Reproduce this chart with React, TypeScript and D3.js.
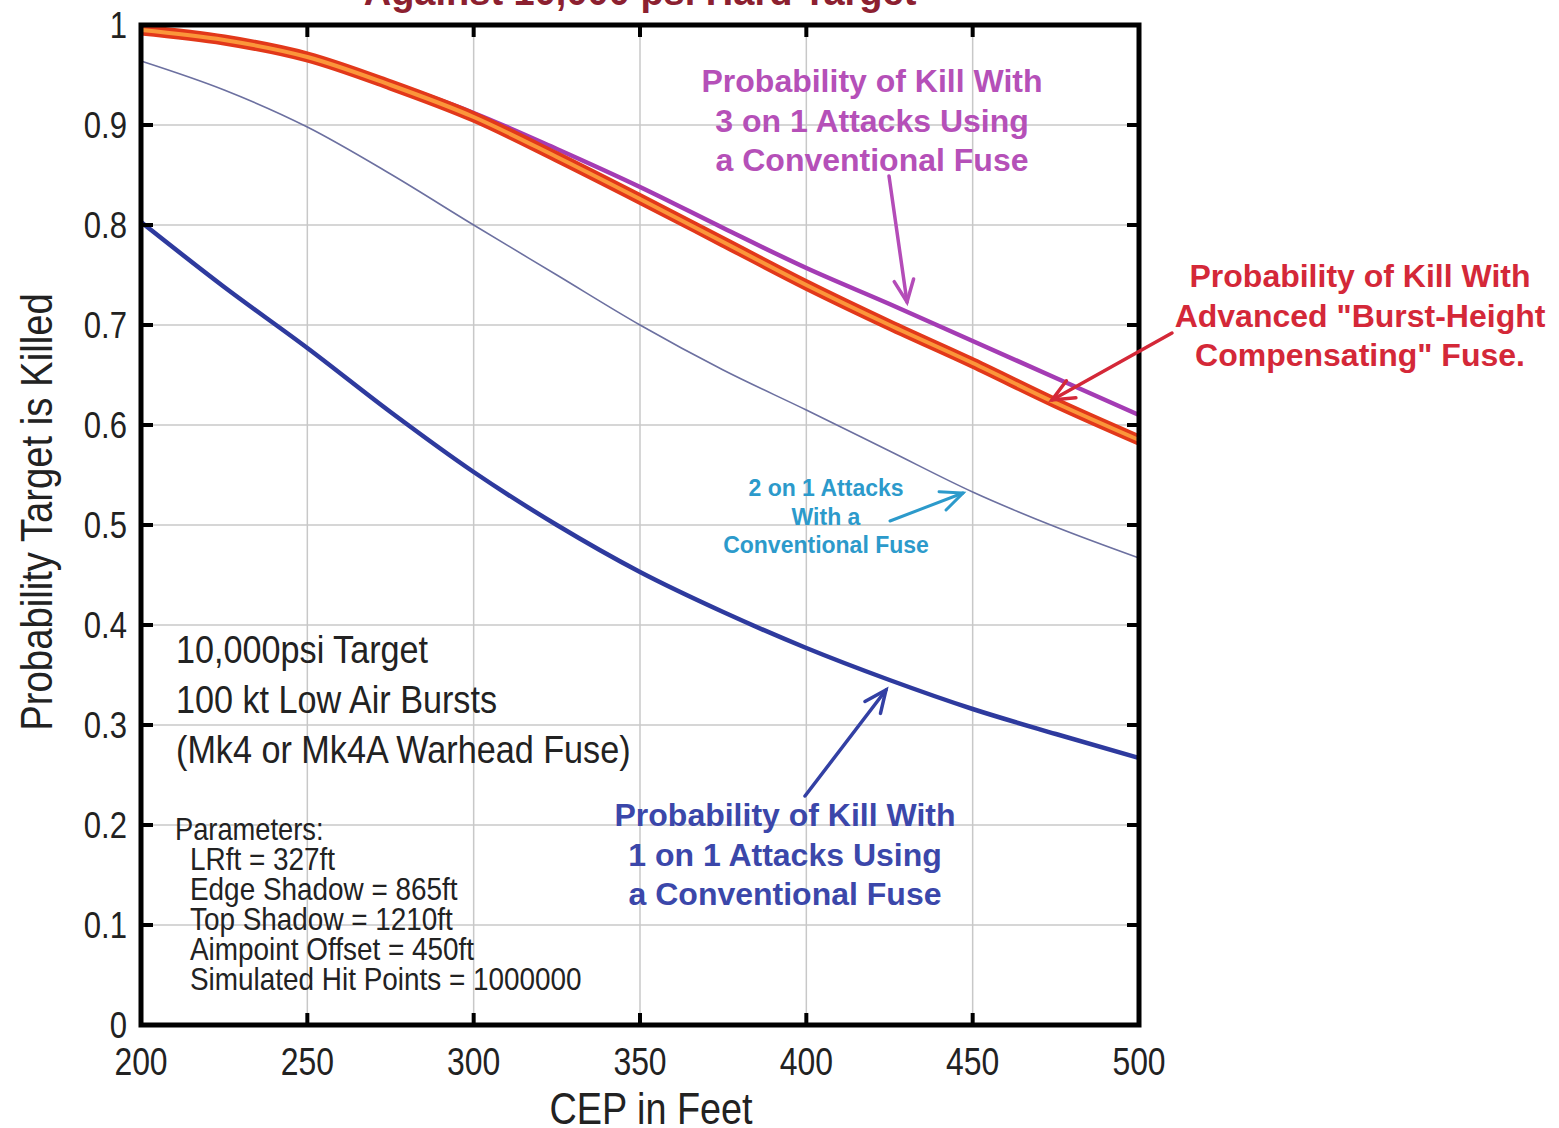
import { useEffect, useRef } from 'react';
import * as d3 from 'd3';

// CEP values (ft)
const cep = [200, 225, 250, 275, 300, 325, 350, 375, 400, 425, 450, 475, 500];

// probability of kill
const oneOnOne = [0.803, 0.738, 0.677, 0.613, 0.553, 0.5, 0.453, 0.413, 0.377, 0.345, 0.316, 0.291, 0.267];
const twoOnOne = [0.964, 0.935, 0.898, 0.851, 0.8, 0.75, 0.7, 0.655, 0.615, 0.574, 0.533, 0.498, 0.467];
const threeOnOne = [0.995, 0.985, 0.968, 0.942, 0.912, 0.876, 0.838, 0.797, 0.757, 0.721, 0.684, 0.647, 0.61];
const advancedFuse = [0.995, 0.985, 0.968, 0.94, 0.908, 0.868, 0.826, 0.783, 0.74, 0.7, 0.662, 0.622, 0.585];

const xTicks = [200, 250, 300, 350, 400, 450, 500];
const yTicks = [0, 0.1, 0.2, 0.3, 0.4, 0.5, 0.6, 0.7, 0.8, 0.9, 1];

const infoLines = ['10,000psi Target', '100 kt Low Air Bursts', '(Mk4 or Mk4A Warhead Fuse)'];
const paramLines = [
  'LRft = 327ft',
  'Edge Shadow = 865ft',
  'Top Shadow = 1210ft',
  'Aimpoint Offset = 450ft',
  'Simulated Hit Points = 1000000',
];
const purpleNote = ['Probability of Kill With', '3 on 1 Attacks Using', 'a Conventional Fuse'];
const redNote = ['Probability of Kill With', 'Advanced "Burst-Height', 'Compensating" Fuse.'];
const blueNote = ['Probability of Kill With', '1 on 1 Attacks Using', 'a Conventional Fuse'];
const cyanNote = ['2 on 1 Attacks', 'With a', 'Conventional Fuse'];

const SANS = '"Liberation Sans", Arial, Helvetica, sans-serif';

const App = () => {
  const svgRef = useRef<SVGSVGElement>(null);

  useEffect(() => {
    if (!svgRef.current) return;
    const svg = d3.select(svgRef.current);
    svg.selectAll('*').remove();

    const width = 1559;
    const height = 1128;
    const left = 141;
    const right = 1139;
    const top = 25;
    const bottom = 1025;

    const x = d3.scaleLinear().domain([200, 500]).range([left, right]);
    const y = d3.scaleLinear().domain([0, 1]).range([bottom, top]);

    svg.append('rect').attr('width', width).attr('height', height).attr('fill', '#fff');

    // condensed-looking text: squeeze horizontally since no narrow face is installed
    const txt = (
      tx: number, ty: number, s: string, size: number, sx: number,
      anchor = 'start', color = '#222', weight = 'normal', rot = 0,
    ) => svg.append('text')
      .attr('transform', `translate(${tx},${ty}) rotate(${rot}) scale(${sx},1)`)
      .attr('text-anchor', anchor)
      .attr('font-family', SANS)
      .attr('font-weight', weight)
      .attr('font-size', size)
      .attr('fill', color)
      .text(s);

    // title, mostly cut off at the top edge
    txt(640, 5, 'Against 10,000 psi Hard Target', 38, 1, 'middle', '#8c2030', 'bold');

    // grid
    const grid = svg.append('g').attr('stroke', '#c8c8c8').attr('stroke-width', 1.5);
    xTicks.slice(1, -1).forEach(t => {
      grid.append('line').attr('x1', x(t)).attr('x2', x(t)).attr('y1', top).attr('y2', bottom);
    });
    yTicks.slice(1, -1).forEach(t => {
      grid.append('line').attr('x1', left).attr('x2', right).attr('y1', y(t)).attr('y2', y(t));
    });

    // curves
    const line = d3.line<number>()
      .x((_, i) => x(cep[i]))
      .y(d => y(d))
      .curve(d3.curveMonotoneX);

    svg.append('path').attr('d', line(twoOnOne)).attr('fill', 'none')
      .attr('stroke', '#6c70a0').attr('stroke-width', 1.6);
    svg.append('path').attr('d', line(oneOnOne)).attr('fill', 'none')
      .attr('stroke', '#2e3a9e').attr('stroke-width', 4.5);
    svg.append('path').attr('d', line(threeOnOne)).attr('fill', 'none')
      .attr('stroke', '#a43cb4').attr('stroke-width', 4.5);
    svg.append('path').attr('d', line(advancedFuse)).attr('fill', 'none')
      .attr('stroke', '#e2381a').attr('stroke-width', 11);
    svg.append('path').attr('d', line(advancedFuse)).attr('fill', 'none')
      .attr('stroke', '#fb963a').attr('stroke-width', 4);

    // frame and ticks
    svg.append('rect')
      .attr('x', left).attr('y', top)
      .attr('width', right - left).attr('height', bottom - top)
      .attr('fill', 'none').attr('stroke', '#000').attr('stroke-width', 5);

    const ticks = svg.append('g').attr('stroke', '#000').attr('stroke-width', 4);
    xTicks.slice(1, -1).forEach(t => {
      ticks.append('line').attr('x1', x(t)).attr('x2', x(t)).attr('y1', bottom).attr('y2', bottom - 12);
      ticks.append('line').attr('x1', x(t)).attr('x2', x(t)).attr('y1', top).attr('y2', top + 12);
    });
    yTicks.slice(1, -1).forEach(t => {
      ticks.append('line').attr('x1', left).attr('x2', left + 12).attr('y1', y(t)).attr('y2', y(t));
      ticks.append('line').attr('x1', right).attr('x2', right - 12).attr('y1', y(t)).attr('y2', y(t));
    });

    // tick labels
    yTicks.forEach(t => {
      txt(left - 14, y(t) + 13, d3.format('~g')(t), 37, 0.84, 'end');
    });
    xTicks.forEach(t => {
      txt(x(t), 1075, String(t), 38, 0.84, 'middle');
    });

    // axis titles
    txt(651, 1124, 'CEP in Feet', 44, 0.86, 'middle');
    txt(52, 512, 'Probability Target is Killed', 44, 0.87, 'middle', '#222', 'normal', -90);

    // info block
    infoLines.forEach((s, i) => txt(176, 663 + i * 50, s, 38, 0.9));
    txt(175, 840, 'Parameters:', 31, 0.88);
    paramLines.forEach((s, i) => txt(190, 870 + i * 30, s, 31, 0.9));

    // annotations
    const note = (lines: string[], cx: number, y0: number, step: number, size: number, color: string) => {
      lines.forEach((s, i) => txt(cx, y0 + i * step, s, size, 1, 'middle', color, 'bold'));
    };
    note(purpleNote, 872, 92, 39.5, 32, '#b550b8');
    note(redNote, 1360, 287, 39.5, 32, '#d42838');
    note(blueNote, 785, 826, 39.5, 32, '#3b47aa');
    note(cyanNote, 826, 496, 28.5, 23, '#2c9acb');

    const arrow = (x1: number, y1: number, x2: number, y2: number, color: string, w: number) => {
      const g = svg.append('g').attr('stroke', color).attr('stroke-width', w)
        .attr('fill', 'none').attr('stroke-linecap', 'round');
      g.append('line').attr('x1', x1).attr('y1', y1).attr('x2', x2).attr('y2', y2);
      const a = Math.atan2(y2 - y1, x2 - x1);
      const len = 24;
      const spread = 0.42;
      const p = d3.path();
      p.moveTo(x2 - len * Math.cos(a - spread), y2 - len * Math.sin(a - spread));
      p.lineTo(x2, y2);
      p.lineTo(x2 - len * Math.cos(a + spread), y2 - len * Math.sin(a + spread));
      g.append('path').attr('d', p.toString());
    };
    arrow(889, 176, 907, 302, '#b44cb8', 3.5);
    arrow(1172, 333, 1052, 400, '#d42838', 3.5);
    arrow(890, 521, 963, 493, '#2c9acb', 3);
    arrow(805, 796, 886, 690, '#3340a4', 3.5);
  }, []);

  return (
    <svg
      ref={svgRef}
      width="1559"
      height="1128"
      style={{ position: 'absolute', left: 0, top: 0, display: 'block' }}
    />
  );
};

export default App;
